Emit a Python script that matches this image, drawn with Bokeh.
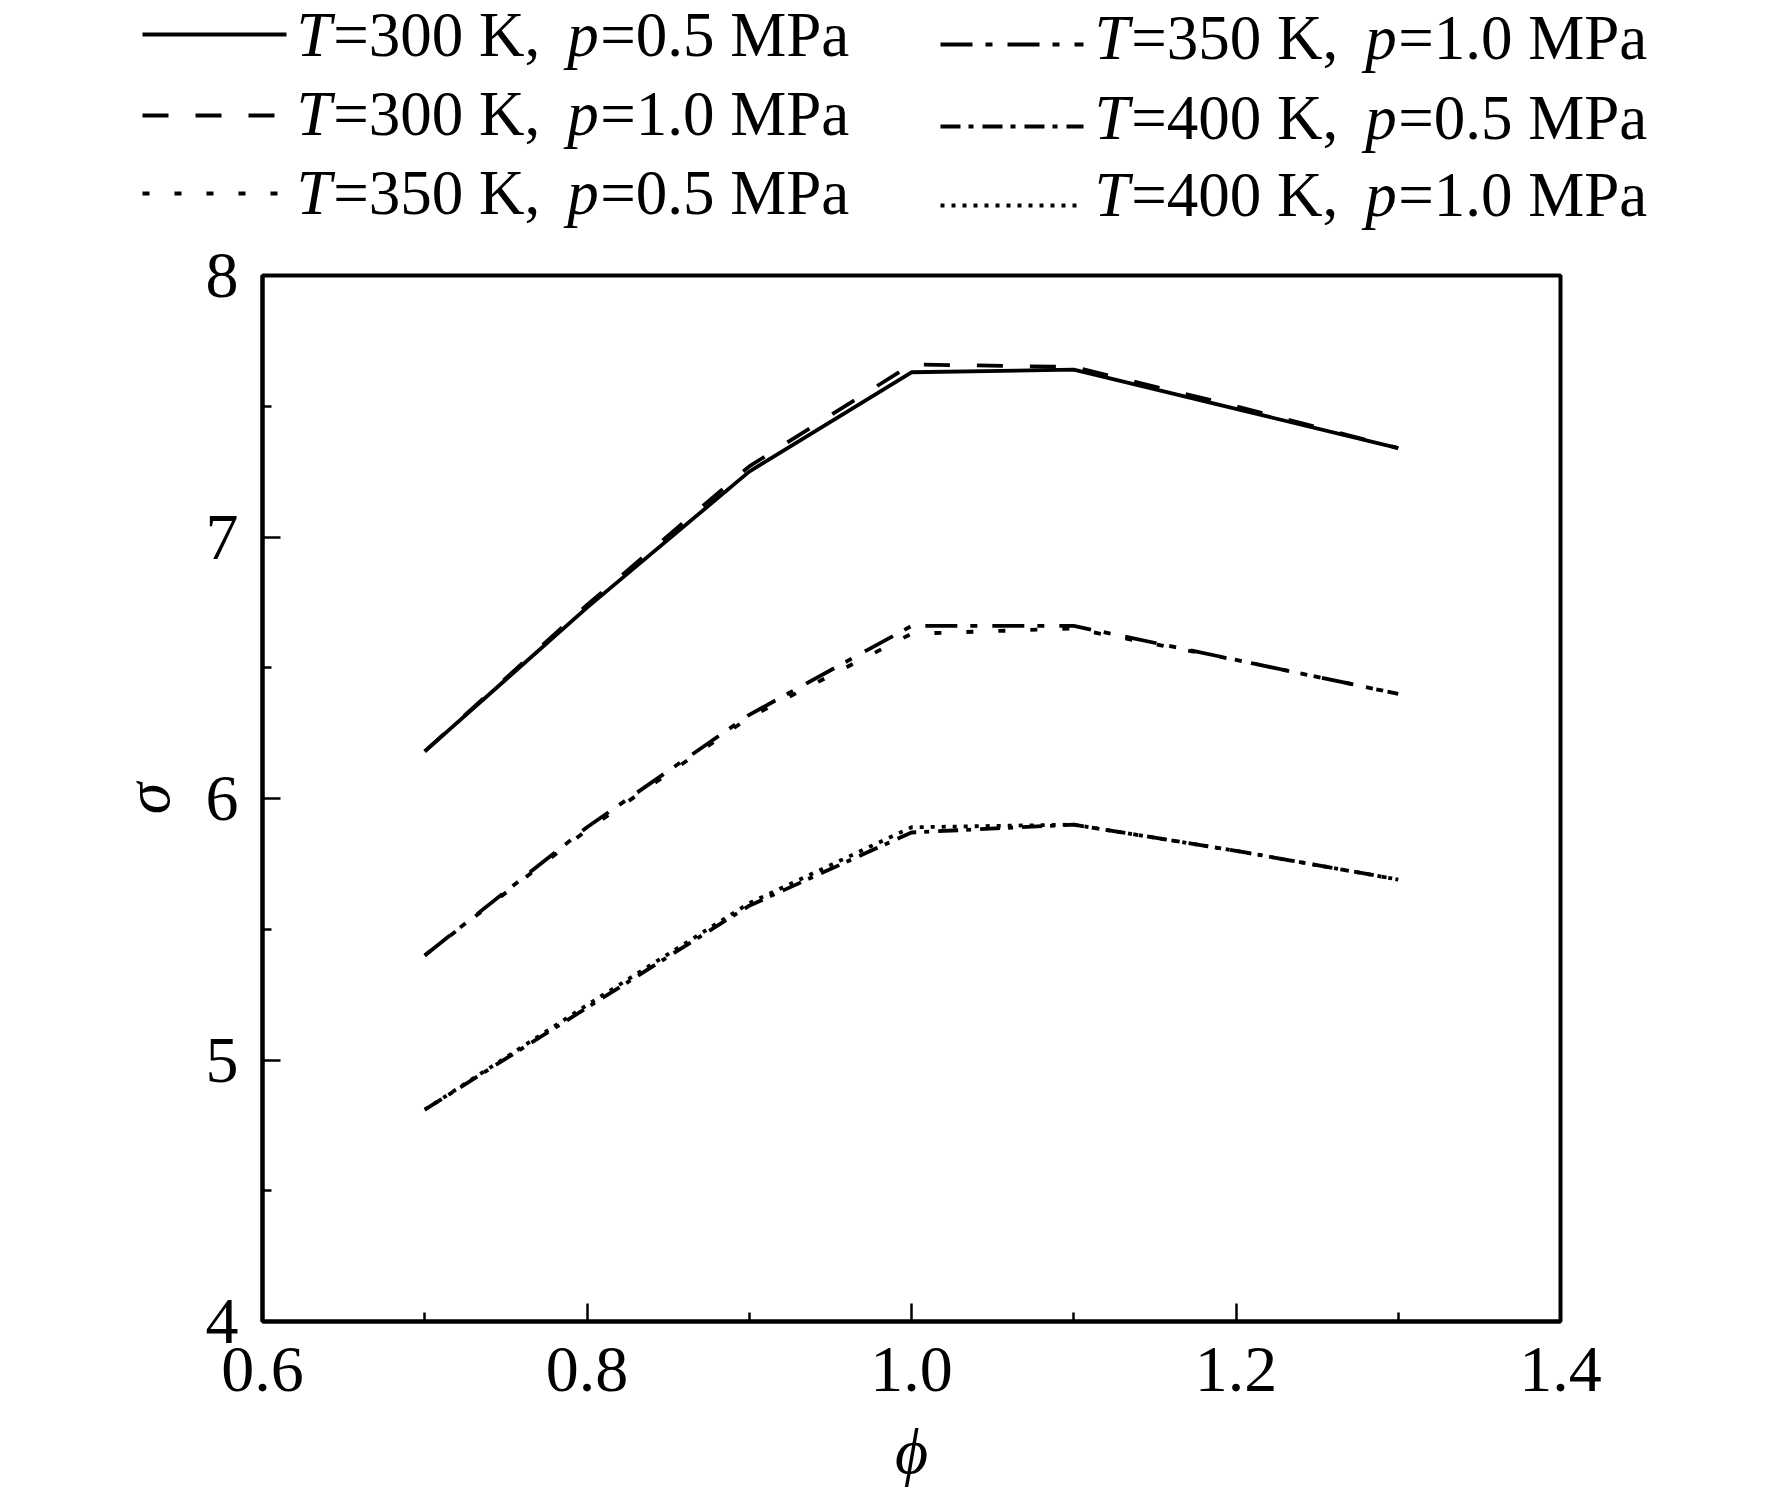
from bokeh.plotting import figure
from bokeh.models import Range1d, FixedTicker, ColumnDataSource
from bokeh.layouts import column
from bokeh.core.properties import value
from bokeh.embed import file_html
from bokeh.resources import INLINE

# ---------------- data ----------------
phi = [0.7, 0.8, 0.9, 1.0, 1.1, 1.2, 1.3]
sigma_300_05 = [6.18, 6.73, 7.25, 7.63, 7.64, 7.49, 7.34]
sigma_300_10 = [6.18, 6.74, 7.27, 7.66, 7.65, 7.50, 7.34]
sigma_350_05 = [5.40, 5.88, 6.31, 6.63, 6.65, 6.53, 6.40]
sigma_350_10 = [5.40, 5.89, 6.32, 6.66, 6.66, 6.53, 6.40]
sigma_400_05 = [4.81, 5.20, 5.59, 5.87, 5.90, 5.80, 5.69]
sigma_400_10 = [4.81, 5.21, 5.60, 5.89, 5.90, 5.80, 5.69]

temps = ["300", "300", "350", "350", "400", "400"]
pressures = ["0.5", "1.0", "0.5", "1.0", "0.5", "1.0"]
series = [sigma_300_05, sigma_300_10, sigma_350_05, sigma_350_10, sigma_400_05, sigma_400_10]
dashes = ["solid", "26 27", "7 25", "32 13 7 15", "20 8 5 9", "4 7"]

x_ticks = [0.6, 0.8, 1.0, 1.2, 1.4]
x_minor = [0.7, 0.9, 1.1, 1.3]
y_ticks = [4, 5, 6, 7, 8]
y_minor = [4.5, 5.5, 6.5, 7.5]

FONT = "Liberation Serif"
W, H = 1772, 1497
LEG_H = 236
FL, FR, FT, FB = 262, 1560, 275, 1321   # frame edges in page pixels

# ---------------- legend figure (pixel coordinates, full-size frame) ----------------
leg = figure(width=W, height=LEG_H, x_range=Range1d(0, W), y_range=Range1d(LEG_H, 0),
             x_axis_type=None, y_axis_type=None, toolbar_location=None,
             output_backend="svg", min_border=0, min_border_left=0, min_border_right=0,
             min_border_top=0, min_border_bottom=0, outline_line_color=None,
             frame_align=False)
leg.grid.visible = False

em = {'=': 0.564, ' ': 0.25, 'K': 0.722, ',': 0.25, '.': 0.25, 'M': 0.889,
      'P': 0.556, 'a': 0.444, 'T': 0.556, 'p': 0.5}
for d in "0123456789":
    em[d] = 0.5

def wid(s, f):
    return sum(em.get(c, 0.5) for c in s) * f

FS = 63
SPREAD = 1.05
BASE_SHIFT = 25          # renderer places the baseline ~25 px below the given y
col_line = [(142, 286), (940, 1083)]
col_text = [296, 1094]
rows_line = [[34, 115, 193], [44, 126, 205]]
rows_base = [[59, 138, 217], [62, 142, 219]]

it = dict(x=[], y=[], t=[])
rm = dict(x=[], y=[], t=[])
for i in range(6):
    c = i // 3
    r = i % 3
    x0, x1 = col_line[c]
    yl = rows_line[c][r]
    leg.line([x0, x1], [yl, yl], line_color="black", line_width=4, line_dash=dashes[i])
    pieces = [("T", True), ("=%s K, " % temps[i], False), ("p", True),
              ("=%s MPa" % pressures[i], False)]
    xx = col_text[c]
    for s, ital in pieces:
        d = it if ital else rm
        d["x"].append(xx); d["y"].append(rows_base[c][r] - BASE_SHIFT); d["t"].append(s)
        xx += wid(s, FS) * SPREAD

for d, style in ((it, "italic"), (rm, "normal")):
    leg.text(x="x", y="y", text="t", source=ColumnDataSource(d),
             text_font=value(FONT), text_font_size="%dpx" % FS,
             text_font_style=style, text_baseline="alphabetic",
             text_align="left", text_color="black")

# ---------------- main figure ----------------
MAIN_H = H - LEG_H
p = figure(width=W, height=MAIN_H, x_range=Range1d(0.6, 1.4), y_range=Range1d(4, 8),
           toolbar_location=None, output_backend="svg",
           min_border_left=FL, min_border_right=W - FR, min_border_top=FT - LEG_H,
           min_border_bottom=H - FB, frame_align=False)
p.grid.visible = False
p.outline_line_color = "black"
p.outline_line_width = 4
p.background_fill_color = "white"
p.border_fill_color = "white"

for ys, dsh in zip(series, dashes):
    p.line(phi, ys, line_color="black", line_width=3.8, line_dash=dsh)

for ax in (p.xaxis[0], p.yaxis[0]):
    ax.axis_line_width = 4
    ax.axis_line_color = "black"
    ax.major_tick_in = 18
    ax.major_tick_out = 0
    ax.minor_tick_in = 9
    ax.minor_tick_out = 0
    ax.major_tick_line_width = 2.5
    ax.minor_tick_line_width = 2.5
    ax.major_tick_line_color = "black"
    ax.minor_tick_line_color = "black"
    ax.major_label_text_font = FONT
    ax.major_label_text_font_size = "66px"
    ax.major_label_text_color = "black"
    ax.axis_label_text_font = FONT
    ax.axis_label_text_font_size = "64px"
    ax.axis_label_text_font_style = "italic"
    ax.axis_label_text_color = "black"

p.xaxis.ticker = FixedTicker(ticks=x_ticks, minor_ticks=x_minor)
p.yaxis.ticker = FixedTicker(ticks=y_ticks, minor_ticks=y_minor)
p.xaxis.major_label_overrides = {t: "%.1f" % t for t in x_ticks}
p.yaxis.major_label_overrides = {t: "%d" % t for t in y_ticks}
p.xaxis.major_label_standoff = 26
p.yaxis.major_label_standoff = 24
p.xaxis.axis_label = "ϕ"
p.yaxis.axis_label = "σ"
p.xaxis.axis_label_standoff = 22
p.yaxis.axis_label_standoff = 20

layout = column(leg, p, spacing=0)
open("out.html", "w").write(file_html(layout, INLINE))
